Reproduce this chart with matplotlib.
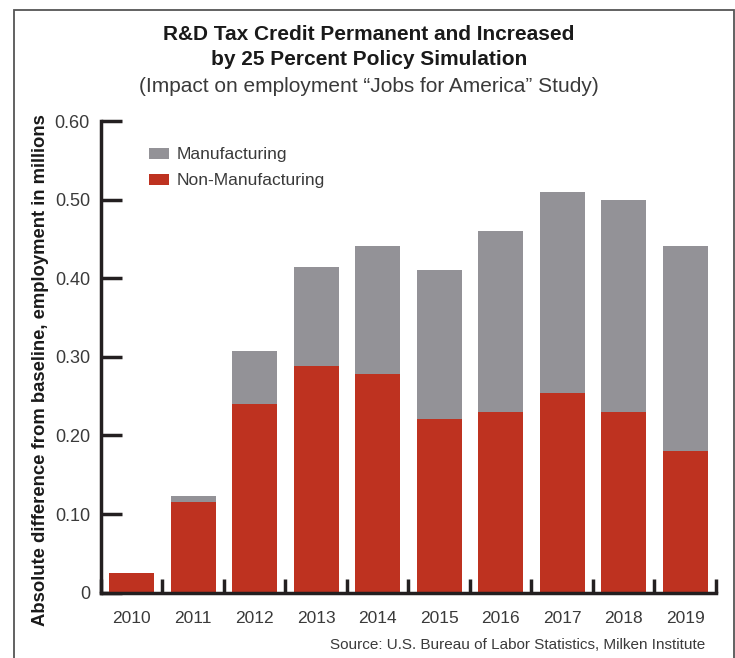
import matplotlib
matplotlib.use('Agg')
import matplotlib.pyplot as plt
from matplotlib.patches import Rectangle
import numpy as np

years = ['2010', '2011', '2012', '2013', '2014', '2015', '2016', '2017', '2018', '2019']
non_manufacturing = [0.025, 0.115, 0.240, 0.288, 0.278, 0.221, 0.230, 0.254, 0.230, 0.180]
total = [0.025, 0.123, 0.307, 0.414, 0.441, 0.410, 0.460, 0.510, 0.500, 0.441]
manufacturing = [t - n for t, n in zip(total, non_manufacturing)]
yticks = [0, 0.10, 0.20, 0.30, 0.40, 0.50, 0.60]
ytick_labels = ['0', '0.10', '0.20', '0.30', '0.40', '0.50', '0.60']

red = '#be3220'
grey = '#939297'
text_grey = '#3a3a3a'
axis_col = '#231f20'

plt.rcParams['font.family'] = ['Liberation Sans', 'DejaVu Sans']

fig = plt.figure(figsize=(7.35, 6.58), dpi=100)
ax = fig.add_axes([0.1374, 0.0992, 0.8366, 0.7169])

x = np.arange(len(years))
ax.bar(x, non_manufacturing, width=0.73, color=red, label='Non-Manufacturing', zorder=2)
ax.bar(x, manufacturing, width=0.73, bottom=non_manufacturing, color=grey,
       label='Manufacturing', zorder=2)

ax.set_xlim(-0.5, len(years) - 0.5)
ax.set_ylim(0, 0.60)

for side in ['top', 'right']:
    ax.spines[side].set_visible(False)
for side in ['left', 'bottom']:
    ax.spines[side].set_linewidth(2.5)
    ax.spines[side].set_color(axis_col)

ax.set_yticks(yticks)
ax.set_yticklabels(ytick_labels)
ax.tick_params(axis='y', direction='in', length=15, width=2.5, color=axis_col,
               labelsize=13, labelcolor=text_grey, pad=8)
ax.set_xticks(x)
ax.set_xticklabels(years)
ax.tick_params(axis='x', which='major', length=0, labelsize=12.5, labelcolor=text_grey, pad=13)
ax.set_xticks(np.arange(-0.5, len(years)), minor=True)
ax.tick_params(axis='x', which='minor', direction='in', length=10, width=2.5, color=axis_col)

ax.set_ylabel('Absolute difference from baseline, employment in millions',
              fontsize=13.3, fontweight='bold', color='#1a1a1a', va='center')
ax.yaxis.set_label_coords(-0.099, 0.472)

handles, labels = ax.get_legend_handles_labels()
leg = ax.legend(handles[::-1], labels[::-1], loc='upper left', bbox_to_anchor=(0.078, 0.944),
                frameon=False, fontsize=12.5, handlelength=1.15, handleheight=0.6,
                handletextpad=0.45, labelspacing=0.62, borderpad=0, borderaxespad=0)
for t in leg.get_texts():
    t.set_color(text_grey)

fig.text(0.502, 0.948, 'R&D Tax Credit Permanent and Increased', ha='center', va='center',
         fontsize=15, fontweight='bold', color='#1a1a1a')
fig.text(0.502, 0.909, 'by 25 Percent Policy Simulation', ha='center', va='center',
         fontsize=15, fontweight='bold', color='#1a1a1a')
fig.text(0.502, 0.868, '(Impact on employment \u201cJobs for America\u201d Study)', ha='center',
         va='center', fontsize=15, color=text_grey)
fig.text(0.960, 0.020, 'Source: U.S. Bureau of Labor Statistics, Milken Institute', ha='right',
         va='center', fontsize=11, color=text_grey)

# outer frame, open at the bottom edge
fig.add_artist(Rectangle((0.019, -0.05), 0.979, 1.035, transform=fig.transFigure,
                         fill=False, edgecolor='#555555', linewidth=1.3))

fig.savefig('out.png', dpi=100)
